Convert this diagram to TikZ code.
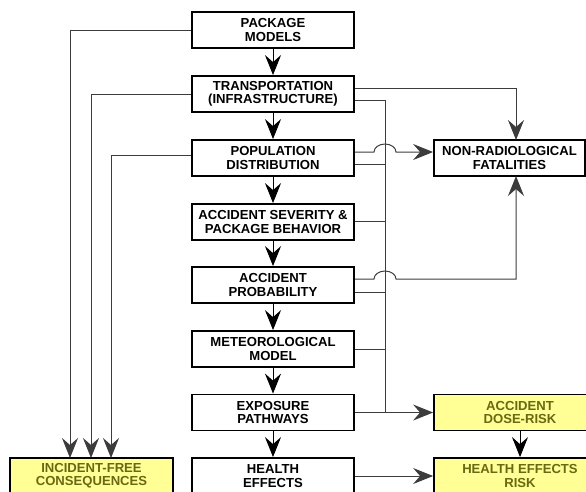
\documentclass[tikz,border=0pt]{standalone}
\usepackage{fontspec}
\setmainfont{Liberation Sans}
\usetikzlibrary{arrows.meta,calc}
\definecolor{boxyellow}{RGB}{255,255,150}
\definecolor{olivetext}{RGB}{105,105,20}
\definecolor{linegray}{RGB}{60,60,60}
\tikzset{
  box/.style={draw=black, line width=1.8pt, minimum height=36pt, inner sep=0pt,
    align=center, font=\fontsize{13.1}{13.3}\selectfont\bfseries},
  cbox/.style={box, minimum width=162pt},
  ybox/.style={box, fill=boxyellow, text=olivetext},
  conn/.style={draw=linegray, line width=1pt},
  arr/.style={conn, arrows={-Stealth[length=20pt,width=16pt,inset=7pt]}},
  darr/.style={draw=black, line width=1pt, arrows={-Stealth[length=20pt,width=16pt,inset=7pt]}}
}
\begin{document}
\begin{tikzpicture}[x=1pt,y=-1pt]
\useasboundingbox (0,0) rectangle (586,491);
\clip (0,0) rectangle (586,491);
% central column
\node[cbox] (pm) at (273,30) {PACKAGE\\MODELS};
\node[cbox] (tr) at (273,94) {TRANSPORTATION\\(INFRASTRUCTURE)};
\node[cbox] (pd) at (273,158) {POPULATION\\DISTRIBUTION};
\node[cbox] (as) at (273,222) {ACCIDENT SEVERITY \&\\PACKAGE BEHAVIOR};
\node[cbox] (ap) at (273,285) {ACCIDENT\\PROBABILITY};
\node[cbox] (mm) at (273,349) {METEOROLOGICAL\\MODEL};
\node[cbox] (ep) at (273,412.5) {EXPOSURE\\PATHWAYS};
\node[cbox] (he) at (273,476) {HEALTH\\EFFECTS};
% right
\node[box, minimum width=151pt] (nr) at (509.5,158) {NON-RADIOLOGICAL\\FATALITIES};
\node[ybox, minimum width=172pt] (dr) at (520,412.5) {ACCIDENT\\DOSE-RISK};
\node[ybox, minimum width=172pt] (hr) at (520,476) {HEALTH EFFECTS\\RISK};
% left
\node[ybox, minimum width=163pt] (inc) at (91.5,476) {INCIDENT-FREE\\CONSEQUENCES};
% central arrows
\foreach \a/\b in {pm/tr,tr/pd,pd/as,as/ap,ap/mm,mm/ep,ep/he}
  \draw[darr] (\a.south) -- (\b.north);
% left connectors
\coordinate (l1) at (70,458);
\coordinate (l2) at (91,458);
\coordinate (l3) at (111,458);
\draw[arr] (pm.west) -| (l1);
\draw[arr] (tr.west) -| (l2);
\draw[arr] ($(pd.west)+(0,-3)$) -| (l3);
% bus
\coordinate (bt) at (385,100);
\coordinate (bb) at (385,412.5);
\draw[conn] ($(tr.east)+(0,6)$) -- (bt) -- (bb);
\draw[conn] ($(pd.east)+(0,6)$) -- (385,164);
\draw[conn] ($(as.east)+(0,-1)$) -- (385,221);
\draw[conn] ($(ap.east)+(0,7)$) -- (385,292);
\draw[conn] (mm.east) -- (385,349);
% to non-radiological
\coordinate (nrt) at (516,140);
\coordinate (nrb) at (516,176);
\draw[arr] ($(tr.east)+(0,-6)$) -| (nrt);
\draw[arr] ($(pd.east)+(0,-6)$) -- (374,152) arc[start angle=180,end angle=0,x radius=11pt,y radius=8pt] -- (nr.west |- 0,152);
\draw[arr] ($(ap.east)+(0,-6)$) -- (374,279) arc[start angle=180,end angle=0,x radius=11pt,y radius=8pt] -| (nrb);
% to yellow boxes
\draw[arr] (ep.east) -- (dr.west);
\draw[arr] (he.east) -- (hr.west);
\draw[darr] (dr.south) -- (hr.north);
\end{tikzpicture}
\end{document}
